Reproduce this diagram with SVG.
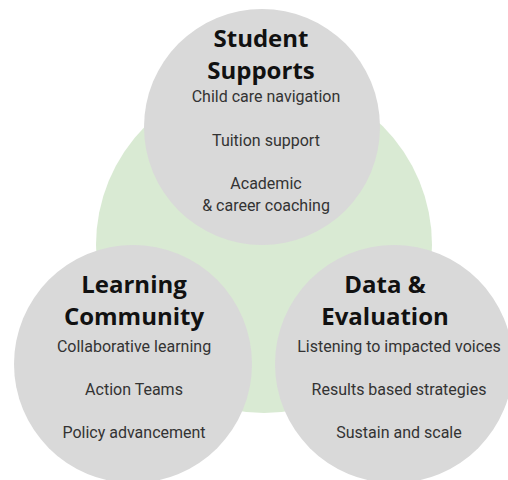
<svg xmlns="http://www.w3.org/2000/svg" width="508" height="480" viewBox="0 0 508 480">
  <style>
    .bubble { fill: #d9d9d9; }
    .title { font-family: "Open Sans", "Liberation Sans", sans-serif; font-weight: 700; font-size: 24px; fill: #111111; text-anchor: middle; }
    .item { font-family: Roboto, "Liberation Sans", sans-serif; font-size: 16px; fill: #333333; text-anchor: middle; }
  </style>
  <rect width="508" height="480" fill="#ffffff"/>
  <!-- shared background -->
  <circle id="core" cx="264" cy="245" r="168" fill="#d9ead3"/>

  <g id="student-supports">
    <circle class="bubble" cx="262" cy="127" r="118"/>
    <text class="title" x="261" y="47">Student</text>
    <text class="title" x="261" y="79">Supports</text>
    <text class="item" x="266" y="102">Child care navigation</text>
    <text class="item" x="266" y="146">Tuition support</text>
    <text class="item" x="266" y="189">Academic</text>
    <text class="item" x="266" y="211">&amp; career coaching</text>
  </g>

  <g id="learning-community">
    <circle class="bubble" cx="133" cy="364" r="119"/>
    <text class="title" x="134" y="293">Learning</text>
    <text class="title" x="134" y="325">Community</text>
    <text class="item" x="134" y="352">Collaborative learning</text>
    <text class="item" x="134" y="395">Action Teams</text>
    <text class="item" x="134" y="438">Policy advancement</text>
  </g>

  <g id="data-evaluation">
    <circle class="bubble" cx="394" cy="364" r="119"/>
    <text class="title" x="385" y="293">Data &amp;</text>
    <text class="title" x="385" y="325">Evaluation</text>
    <text class="item" x="399" y="352">Listening to impacted voices</text>
    <text class="item" x="399" y="395">Results based strategies</text>
    <text class="item" x="399" y="438">Sustain and scale</text>
  </g>

  <g id="connectors"></g>
</svg>
